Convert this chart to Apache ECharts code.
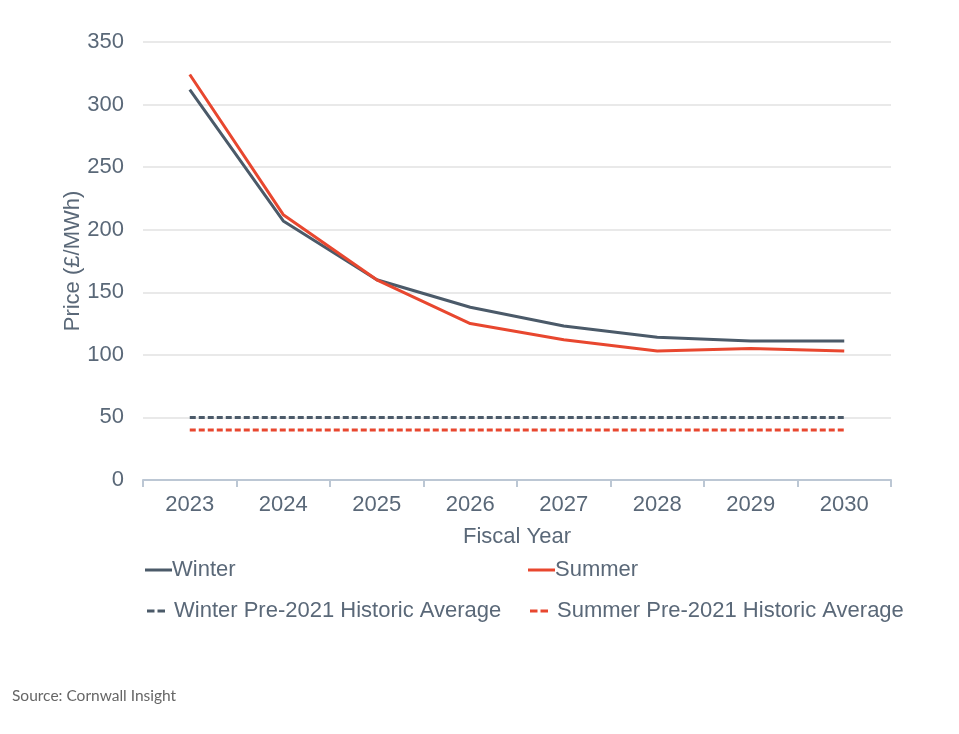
<!DOCTYPE html>
<html>
<head>
<meta charset="utf-8">
<script src="https://cdn.jsdelivr.net/npm/echarts@6/dist/echarts.min.js"></script>
<style>
html,body{margin:0;padding:0;background:#fff;}
#c{width:959px;height:734px;}
</style>
</head>
<body>
<div id="c"></div>
<script>
const years = ['2023','2024','2025','2026','2027','2028','2029','2030'];
const winter = [312, 207, 160, 138, 123, 114, 111, 111];
const summer = [324, 212, 160, 125, 112, 103, 105, 103];
const winterAvg = [50, 50, 50, 50, 50, 50, 50, 50];
const summerAvg = [40, 40, 40, 40, 40, 40, 40, 40];
const yTicks = [0, 50, 100, 150, 200, 250, 300, 350];

const names = ['Winter', 'Summer', 'Winter Pre-2021 Historic Average', 'Summer Pre-2021 Historic Average'];
const cWinter = '#4b5a69';
const cSummer = '#e8472f';
const txt = '#5a6878';
const font = 'Liberation Sans, Arial, sans-serif';
const fs = 22;
const dashIcon = 'path://M0,0h10v4H0z M14,0h10v4H14z';

const chart = echarts.init(document.getElementById('c'));
function legendItem(name, left, top, icon, color) {
  return {
    data: [{name: name, icon: icon, itemStyle: {color: color}}],
    left: left, top: top,
    itemWidth: icon === 'rect' ? 27 : 24,
    itemHeight: 3,
    itemGap: 0,
    textStyle: {color: txt, fontSize: fs, fontFamily: font, padding: [0, 0, 0, icon === 'rect' ? -5 : 1]},
    selectedMode: false
  };
}
chart.setOption({
  animation: false,
  grid: {left: 143, right: 68, top: 42, bottom: 254},
  legend: [
    legendItem(names[0], 140, 554, 'rect', cWinter),
    legendItem(names[1], 523, 554, 'rect', cSummer),
    legendItem(names[2], 142, 595, dashIcon, cWinter),
    legendItem(names[3], 525, 595, dashIcon, cSummer)
  ],
  xAxis: {
    type: 'category',
    data: years,
    boundaryGap: true,
    name: 'Fiscal Year',
    nameLocation: 'middle',
    nameGap: 46,
    nameMoveOverlap: false,
    nameTextStyle: {color: txt, fontSize: fs, fontFamily: font},
    axisLine: {lineStyle: {color: '#bcc7d4', width: 2}},
    axisTick: {show: true, length: 7, lineStyle: {color: '#bcc7d4', width: 2}},
    axisLabel: {color: txt, fontSize: fs, fontFamily: font, margin: 14}
  },
  yAxis: {
    type: 'value',
    min: yTicks[0],
    max: yTicks[yTicks.length - 1],
    interval: 50,
    name: 'Price (£/MWh)',
    nameLocation: 'middle',
    nameGap: 59,
    nameMoveOverlap: false,
    nameTextStyle: {color: txt, fontSize: fs, fontFamily: font},
    axisLine: {show: false},
    axisTick: {show: false},
    axisLabel: {color: txt, fontSize: fs, fontFamily: font, margin: 19},
    splitLine: {lineStyle: {color: '#e2e2e2', width: 1.5}}
  },
  series: [
    {name: names[0], type: 'line', data: winter, symbol: 'none', lineStyle: {color: cWinter, width: 3}, itemStyle: {color: cWinter}, z: 3},
    {name: names[1], type: 'line', data: summer, symbol: 'none', lineStyle: {color: cSummer, width: 3}, itemStyle: {color: cSummer}, z: 4},
    {name: names[2], type: 'line', data: winterAvg, symbol: 'none', lineStyle: {color: cWinter, width: 3, type: [6, 3]}, itemStyle: {color: cWinter}},
    {name: names[3], type: 'line', data: summerAvg, symbol: 'none', lineStyle: {color: cSummer, width: 3, type: [6, 3]}, itemStyle: {color: cSummer}}
  ],
  graphic: [{
    type: 'text', left: 12, top: 688,
    style: {text: 'Source: Cornwall Insight', fill: '#666', fontSize: 15.5, fontFamily: 'Lato, sans-serif'}
  }]
});
</script>
</body>
</html>
